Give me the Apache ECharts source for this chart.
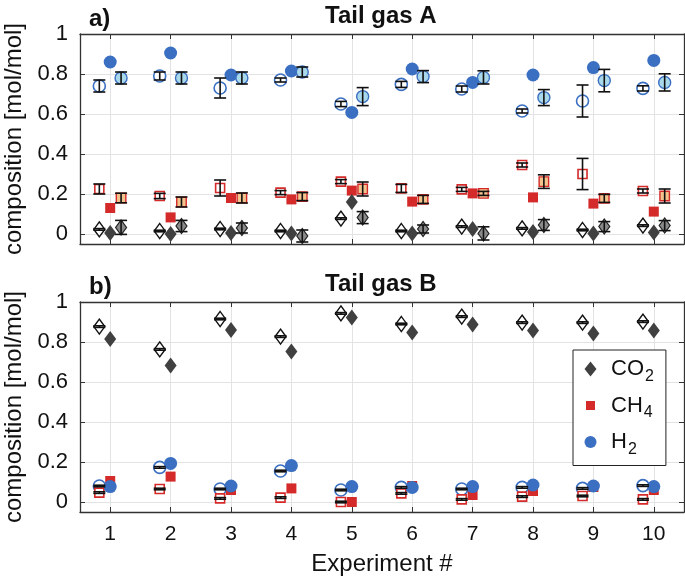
<!DOCTYPE html>
<html>
<head>
<meta charset="utf-8">
<script src="https://cdn.jsdelivr.net/npm/echarts@6/dist/echarts.min.js"></script>
<style>
html,body{margin:0;padding:0;background:#fff;}
#chart{width:685px;height:582px;}
</style>
</head>
<body>
<div id="chart"></div>
<script>
// ---------- data ----------
var experiments = [1, 2, 3, 4, 5, 6, 7, 8, 9, 10];
var yTicks = [0, 0.2, 0.4, 0.6, 0.8, 1];

// Panel a) Tail gas A
var aH2Open      = [0.74, 0.79, 0.73, 0.77, 0.65, 0.748, 0.725, 0.615, 0.665, 0.728];
var aH2OpenErr   = [0.03, 0.02, 0.05, 0.01, 0.013, 0.015, 0.015, 0.01, 0.08, 0.013];
var aH2Filled    = [0.86, 0.905, 0.795, 0.815, 0.608, 0.825, 0.758, 0.795, 0.832, 0.868];
var aH2Light     = [0.78, 0.78, 0.78, 0.81, 0.687, 0.787, 0.783, 0.682, 0.767, 0.758];
var aH2LightErr  = [0.03, 0.03, 0.03, 0.025, 0.045, 0.03, 0.033, 0.04, 0.056, 0.043];

var aCH4Open     = [0.225, 0.19, 0.23, 0.207, 0.262, 0.228, 0.223, 0.345, 0.30, 0.215];
var aCH4OpenErr  = [0.025, 0.013, 0.04, 0.01, 0.01, 0.02, 0.01, 0.01, 0.078, 0.01];
var aCH4Filled   = [0.13, 0.083, 0.18, 0.173, 0.217, 0.162, 0.203, 0.183, 0.152, 0.112];
var aCH4Light    = [0.18, 0.16, 0.18, 0.187, 0.225, 0.173, 0.203, 0.262, 0.178, 0.19];
var aCH4LightErr = [0.024, 0.025, 0.025, 0.02, 0.035, 0.02, 0.01, 0.034, 0.02, 0.035];

var aCO2Open     = [0.023, 0.015, 0.025, 0.015, 0.077, 0.015, 0.037, 0.028, 0.02, 0.042];
var aCO2OpenErr  = [0.004, 0.004, 0.004, 0.004, 0.004, 0.004, 0.004, 0.004, 0.004, 0.004];
var aCO2Filled   = [0.005, 0.0, 0.005, 0.003, 0.16, 0.003, 0.025, 0.01, 0.003, 0.007];
var aCO2Light    = [0.033, 0.04, 0.03, -0.01, 0.082, 0.025, 0.003, 0.045, 0.037, 0.042];
var aCO2LightErr = [0.035, 0.028, 0.025, 0.03, 0.03, 0.02, 0.033, 0.027, 0.025, 0.025];

// Panel b) Tail gas B
var bCO2Open   = [0.877, 0.763, 0.915, 0.827, 0.943, 0.89, 0.927, 0.897, 0.897, 0.902];
var bCO2Filled = [0.815, 0.683, 0.86, 0.752, 0.922, 0.848, 0.888, 0.857, 0.843, 0.857];
var bH2Open    = [0.08, 0.173, 0.065, 0.155, 0.06, 0.073, 0.065, 0.073, 0.068, 0.082];
var bH2Filled  = [0.077, 0.193, 0.08, 0.182, 0.077, 0.073, 0.077, 0.085, 0.08, 0.077];
var bCH4Open   = [0.047, 0.065, 0.018, 0.022, 0.0, 0.043, 0.013, 0.027, 0.03, 0.013];
var bCH4Filled = [0.105, 0.127, 0.06, 0.068, 0.0, 0.08, 0.035, 0.055, 0.075, 0.06];
var bOpenErr   = [0.004, 0.004, 0.004, 0.004, 0.004, 0.004, 0.004, 0.004, 0.004, 0.004];

// ---------- styling ----------
var FONT = 'Liberation Sans, Arial, sans-serif';
var AX = '#333333';
var GRIDC = '#e3e3e3';
var BLUE = '#3a6fc1', RED = '#d42a2a', DARK = '#404040';
var LBLUE = '#a9d8ea', PEACH = '#f2c38c', GRAY = '#8a8a8a';
var OFF = 0.18;
var DIAMOND = 'path://M6,0L12,8L6,16L0,8Z';
var LEG_DIAMOND = 'path://M6,0L12,7.5L6,15L0,7.5Z';
var LEG_SQUARE = 'path://M0,0M13,15M2,3L11,3L11,12L2,12Z';
var LEG_CIRCLE = 'path://M0,0M13,15M12.5,7.5A6,6,0,1,1,0.5,7.5A6,6,0,1,1,12.5,7.5Z';

function pts(vals, dx) {
  return vals.map(function (v, i) { return [experiments[i] + dx, v]; });
}
function errPts(vals, errs, dx) {
  return vals.map(function (v, i) { return [experiments[i] + dx, v, errs[i]]; });
}

function errSeries(vals, errs, dx, gi) {
  return {
    type: 'custom', xAxisIndex: gi * 2, yAxisIndex: gi * 2, silent: true,
    data: errPts(vals, errs, dx),
    renderItem: function (params, api) {
      var x = api.value(0), y = api.value(1), e = api.value(2);
      var top = api.coord([x, y + e]);
      var bot = api.coord([x, y - e]);
      var w = 6;
      var st = { stroke: '#111', lineWidth: 1.6 };
      return {
        type: 'group',
        children: [
          { type: 'line', shape: { x1: top[0], y1: top[1], x2: bot[0], y2: bot[1] }, style: st },
          { type: 'line', shape: { x1: top[0] - w, y1: top[1], x2: top[0] + w, y2: top[1] }, style: st },
          { type: 'line', shape: { x1: bot[0] - w, y1: bot[1], x2: bot[0] + w, y2: bot[1] }, style: st }
        ]
      };
    },
    z: 5
  };
}

function scat(name, vals, dx, gi, symbol, size, fill, stroke, bw) {
  return {
    name: name, type: 'scatter', xAxisIndex: gi * 2, yAxisIndex: gi * 2,
    data: pts(vals, dx), symbol: symbol, symbolSize: size,
    symbolKeepAspect: false,
    itemStyle: { color: fill, borderColor: stroke, borderWidth: bw, opacity: 1 },
    emphasis: { disabled: true }, z: 3
  };
}

function xAxes(gi, showLabels) {
  var base = {
    type: 'value', gridIndex: gi, min: 0.5, max: 10.5,
    axisLine: { show: true, onZero: false, lineStyle: { color: AX, width: 1.3 } },
    axisTick: { show: true, inside: true, length: 5, customValues: experiments, lineStyle: { color: AX, width: 1 } },
    splitLine: { show: true, lineStyle: { color: GRIDC, width: 1 } },
    axisLabel: { show: showLabels, customValues: experiments, fontSize: 21, fontFamily: FONT, color: '#111', margin: 12 }
  };
  if (showLabels) {
    base.name = 'Experiment #';
    base.nameLocation = 'middle';
    base.nameGap = 40;
    base.nameTextStyle = { fontSize: 24, fontFamily: FONT, color: '#111' };
  }
  var top = {
    type: 'value', gridIndex: gi, min: 0.5, max: 10.5, position: 'top',
    axisLine: { show: true, onZero: false, lineStyle: { color: AX, width: 1.3 } },
    axisTick: { show: true, inside: true, length: 5, customValues: experiments, lineStyle: { color: AX, width: 1 } },
    splitLine: { show: false }, axisLabel: { show: false }
  };
  return [base, top];
}
function yAxes(gi) {
  var base = {
    type: 'value', gridIndex: gi, min: -0.05, max: 1,
    name: 'composition [mol/mol]', nameLocation: 'middle', nameGap: 48,
    nameTextStyle: { fontSize: 24, fontFamily: FONT, color: '#111' },
    axisLine: { show: true, onZero: false, lineStyle: { color: AX, width: 1.3 } },
    axisTick: { show: true, inside: true, length: 5, customValues: yTicks, lineStyle: { color: AX, width: 1 } },
    splitLine: { show: true, lineStyle: { color: GRIDC, width: 1 } },
    axisLabel: { show: true, customValues: yTicks, fontSize: 22, fontFamily: FONT, color: '#111', margin: 12 }
  };
  var right = {
    type: 'value', gridIndex: gi, min: -0.05, max: 1, position: 'right',
    axisLine: { show: true, onZero: false, lineStyle: { color: AX, width: 1.3 } },
    axisTick: { show: true, inside: true, length: 5, customValues: yTicks, lineStyle: { color: AX, width: 1 } },
    splitLine: { show: false }, axisLabel: { show: false }
  };
  return [base, right];
}

var series = [
  // panel a
  scat('H2 A open', aH2Open, -OFF, 0, 'circle', 12, '#fff', BLUE, 1.6),
  scat('CH4 A open', aCH4Open, -OFF, 0, 'rect', 9, '#fff', RED, 1.6),
  scat('CO2 A open', aCO2Open, -OFF, 0, DIAMOND, [11, 15], '#fff', '#111', 1.4),
  errSeries(aH2Open, aH2OpenErr, -OFF, 0),
  errSeries(aCH4Open, aCH4OpenErr, -OFF, 0),
  errSeries(aCO2Open, aCO2OpenErr, -OFF, 0),
  scat('H2 A', aH2Filled, 0, 0, 'circle', 13, BLUE, BLUE, 0),
  scat('CH4 A', aCH4Filled, 0, 0, 'rect', 10, RED, RED, 0),
  scat('CO2 A', aCO2Filled, 0, 0, DIAMOND, [12, 16], DARK, DARK, 0),
  scat('H2 A light', aH2Light, OFF, 0, 'circle', 12, LBLUE, BLUE, 1.4),
  scat('CH4 A light', aCH4Light, OFF, 0, 'rect', 9.5, PEACH, RED, 1.4),
  scat('CO2 A light', aCO2Light, OFF, 0, DIAMOND, [11, 15], GRAY, '#222', 1.2),
  errSeries(aH2Light, aH2LightErr, OFF, 0),
  errSeries(aCH4Light, aCH4LightErr, OFF, 0),
  errSeries(aCO2Light, aCO2LightErr, OFF, 0),
  // panel b
  scat('H2 B open', bH2Open, -OFF, 1, 'circle', 12, '#fff', BLUE, 1.6),
  scat('CH4 B open', bCH4Open, -OFF, 1, 'rect', 9, '#fff', RED, 1.6),
  scat('CO2 B open', bCO2Open, -OFF, 1, DIAMOND, [11, 15], '#fff', '#111', 1.4),
  errSeries(bH2Open, bOpenErr, -OFF, 1),
  errSeries(bCH4Open, bOpenErr, -OFF, 1),
  errSeries(bCO2Open, bOpenErr, -OFF, 1),
  scat('CH4', bCH4Filled, 0, 1, 'rect', 10, RED, RED, 0),
  scat('H2', bH2Filled, 0, 1, 'circle', 13, BLUE, BLUE, 0),
  scat('CO2', bCO2Filled, 0, 1, DIAMOND, [12, 16], DARK, DARK, 0)
];

var chart = echarts.init(document.getElementById('chart'), null, { renderer: 'canvas' });
chart.setOption({
  animation: false,
  backgroundColor: '#fff',
  textStyle: { fontFamily: FONT },
  title: [
    { text: 'a)', left: 84, top: 2, textStyle: { fontSize: 24, fontWeight: 'bold', fontFamily: FONT, color: '#111' } },
    { text: 'Tail gas A', left: 320, top: -1, textStyle: { fontSize: 24, fontWeight: 'bold', fontFamily: FONT, color: '#111' } },
    { text: 'b)', left: 84, top: 270, textStyle: { fontSize: 24, fontWeight: 'bold', fontFamily: FONT, color: '#111' } },
    { text: 'Tail gas B', left: 320, top: 267, textStyle: { fontSize: 24, fontWeight: 'bold', fontFamily: FONT, color: '#111' } }
  ],
  grid: [
    { left: 80, top: 34, width: 604, height: 210, containLabel: false, outerBoundsMode: 'none' },
    { left: 80, top: 302, width: 604, height: 210, containLabel: false, outerBoundsMode: 'none' }
  ],
  xAxis: xAxes(0, false).concat(xAxes(1, true)),
  yAxis: yAxes(0).concat(yAxes(1)),
  legend: {
    data: [
      { name: 'CO2', icon: LEG_DIAMOND },
      { name: 'CH4', icon: LEG_SQUARE },
      { name: 'H2', icon: LEG_CIRCLE }
    ],
    orient: 'vertical', left: 573, top: 350,
    padding: [8, 12, 8, 11], itemGap: 10, itemWidth: 13, itemHeight: 15,
    borderColor: '#222', borderWidth: 1, backgroundColor: '#fff',
    selectedMode: false,
    formatter: function (n) { return n.replace(/([0-9])/, '{s|$1}'); },
    textStyle: {
      fontSize: 22, fontFamily: FONT, color: '#111', padding: [0, 0, 0, 9],
      rich: { s: { fontSize: 16, fontFamily: FONT, color: '#111', padding: [15, 0, 0, 1] } }
    }
  },
  series: series
});
</script>
</body>
</html>
